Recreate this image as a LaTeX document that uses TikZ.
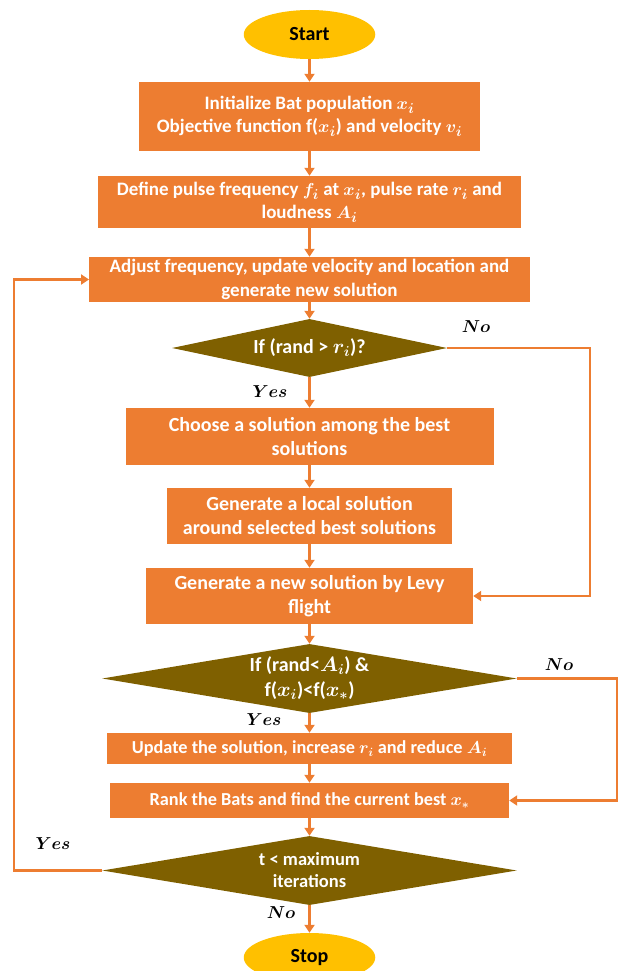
\documentclass[tikz,border=0pt]{standalone}
\usepackage{fontspec}
\setmainfont{Carlito}
\usetikzlibrary{shapes.geometric,arrows.meta}
\definecolor{boxorange}{HTML}{ED7D31}
\definecolor{decolive}{HTML}{7F6000}
\definecolor{termgold}{HTML}{FFC000}
\newcommand{\fsz}[2]{\fontsize{#1}{#2}\selectfont\bfseries\boldmath}
\begin{document}
\begin{tikzpicture}[x=1pt,y=-1pt,
  box/.style={fill=boxorange, text=white, align=center, inner sep=0pt},
  decision/.style={diamond, aspect=6, fill=decolive, text=white, align=center, inner sep=0pt},
  term/.style={ellipse, fill=termgold, inner sep=0pt, minimum width=131.5pt, minimum height=49pt, font=\fsz{20}{22}},
  flow/.style={boxorange, line width=2.5pt, -{Triangle[length=8pt,width=10pt]}},
  lbl/.style={font=\fontsize{19}{21}\selectfont\boldmath}]
  \def\midx{309.5}
  \useasboundingbox (0,0) rectangle (619,971);

  % terminals and process boxes
  \node [term] (start) at (\midx,34.5) {Start};
  \node [box, minimum width=341pt, minimum height=69pt, font=\fsz{19}{23}] (init) at (\midx,116.5)
    {Initialize Bat population $x_i$\\Objective function f($x_i$) and velocity $v_i$};
  \node [box, minimum width=423pt, minimum height=52pt, font=\fsz{19}{23}] (define) at (\midx,202)
    {Define pulse frequency $f_i$ at $x_i$, pulse rate $r_i$ and\\loudness $A_i$};
  \node [box, minimum width=440.5pt, minimum height=45pt, font=\fsz{19}{24}] (adjust) at (\midx,279.5)
    {Adjust frequency, update velocity and location and\\generate new solution};
  \node [decision, minimum width=275pt, minimum height=58pt, font=\fsz{20}{22}] (ifr) at (\midx,348)
    {If (rand > $r_i$)?};
  \node [box, minimum width=368pt, minimum height=57pt, font=\fsz{20}{24}] (choose) at (\midx,436.5)
    {Choose a solution among the best\\solutions};
  \node [box, minimum width=285.5pt, minimum height=56pt, font=\fsz{20}{24}] (local) at (\midx,516)
    {Generate a local solution\\around selected best solutions};
  \node [box, minimum width=327pt, minimum height=56pt, font=\fsz{20}{24}] (levy) at (\midx,596)
    {Generate a new solution by Levy\\flight};
  \node [decision, minimum width=414.5pt, minimum height=69pt, font=\fsz{20}{25}] (ifa) at (\midx,678.5)
    {If (rand<$A_i$) \&\\f($x_i$)<f($x_*$)};
  \node [box, minimum width=405pt, minimum height=31pt, font=\fsz{18.3}{20}] (update) at (\midx,748.5)
    {Update the solution, increase $r_i$ and reduce $A_i$};
  \node [box, minimum width=399pt, minimum height=35pt, font=\fsz{18.3}{20}] (rank) at (\midx,800.5)
    {Rank the Bats and find the current best $x_*$};
  \node [decision, minimum width=414.5pt, minimum height=69pt, font=\fsz{18.5}{22}] (tmax) at (\midx,870.5)
    {t < maximum\\iterations};
  \node [term] (stop) at (\midx,957.5) {Stop};

  % main flow
  \draw [flow] (start) -- (init);
  \draw [flow] (init) -- (define);
  \draw [flow] (define) -- (adjust);
  \draw [flow] (adjust) -- (ifr);
  \draw [flow] (ifr) -- (choose);
  \draw [flow] (choose) -- (local);
  \draw [flow] (local) -- (levy);
  \draw [flow] (levy) -- (ifa);
  \draw [flow] (ifa) -- (update);
  \draw [flow] (update) -- (rank);
  \draw [flow] (rank) -- (tmax);
  \draw [flow] (tmax) -- (stop);

  % side branches
  \draw [flow] (ifr.east) -- ++(143,0) |- (levy.east);
  \draw [flow] (ifa.east) -- ++(100,0) |- (rank.east);
  \draw [flow] (tmax.west) -- ++(-88,0) |- (adjust.west);

  \node [lbl] (no1) at (476,327) {$No$};
  \node [lbl] (yes1) at (270,392) {$Yes$};
  \node [lbl] (no2) at (559,665) {$No$};
  \node [lbl] (yes2) at (264,720) {$Yes$};
  \node [lbl] (yes3) at (53,844) {$Yes$};
  \node [lbl] (no3) at (281,913) {$No$};
\end{tikzpicture}
\end{document}
